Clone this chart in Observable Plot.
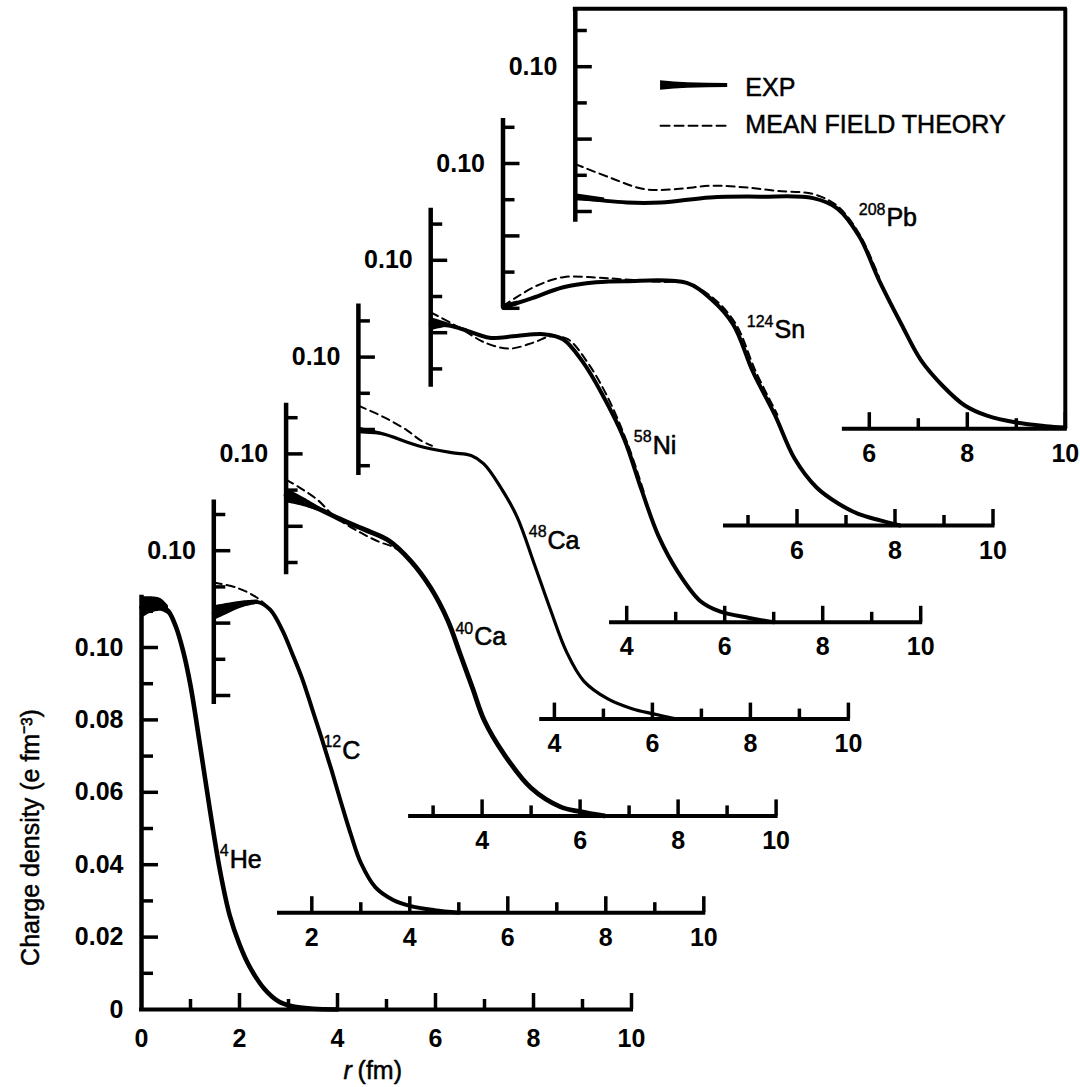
<!DOCTYPE html>
<html><head><meta charset="utf-8">
<script src="https://cdn.jsdelivr.net/npm/d3@7"></script>
<script src="https://cdn.jsdelivr.net/npm/@observablehq/plot@0.6"></script>
<style>
html,body{margin:0;padding:0;background:#fff;}
#chart svg{display:block;background:#fff;}
</style>
</head><body><div id="chart"></div>
<script>
// ---------- nuclei ----------
const massNumbers = ["4", "12", "40", "48", "58", "124", "208"];
const elements = ["He", "C", "Ca", "Ca", "Ni", "Sn", "Pb"];

// ---------- EXP curves (r in fm, charge density in e fm^-3) ----------
const heR   = [0, 0.2, 0.4, 0.55, 0.7, 0.85, 1.0, 1.2, 1.4, 1.6, 1.8, 2.0, 2.2, 2.5, 2.8, 3.1, 3.5, 4.0];
const heExp = [0.1110, 0.1115, 0.1115, 0.1100, 0.1058, 0.0990, 0.0895, 0.0725, 0.0548, 0.0385, 0.0260, 0.0180, 0.0120, 0.0058, 0.0022, 0.0008, 0.0002, 0];
const cR    = [0, 0.3, 0.6, 0.9, 1.15, 1.4, 1.6, 1.8, 2.0, 2.2, 2.4, 2.6, 2.8, 3.0, 3.3, 3.65, 4.0, 4.5, 5.0];
const cExp  = [0.0827, 0.0840, 0.0852, 0.0858, 0.0837, 0.0780, 0.0716, 0.0648, 0.0566, 0.0482, 0.0395, 0.0303, 0.0215, 0.0138, 0.0070, 0.0036, 0.0019, 0.0007, 0];
const ca40R   = [0, 0.35, 0.7, 1.05, 1.6, 2.1, 2.55, 2.95, 3.3, 3.55, 3.8, 4.05, 4.45, 5.0, 5.6, 6.0, 6.5];
const ca40Exp = [0.0886, 0.0866, 0.0846, 0.0823, 0.0791, 0.0760, 0.0703, 0.0630, 0.0540, 0.0448, 0.0355, 0.0262, 0.0170, 0.0077, 0.0025, 0.0012, 0];
const ca48R   = [0, 0.5, 1.2, 1.9, 2.3, 2.56, 2.9, 3.24, 3.58, 3.92, 4.25, 4.6, 5.1, 5.6, 6.0, 6.5];
const ca48Exp = [0.0798, 0.0788, 0.0756, 0.0736, 0.0728, 0.0705, 0.0641, 0.0558, 0.0432, 0.0302, 0.0185, 0.0105, 0.0055, 0.0028, 0.0015, 0];
const niR   = [0, 0.4, 0.75, 1.2, 1.75, 2.3, 2.7, 3.1, 3.5, 3.95, 4.3, 4.65, 5.05, 5.5, 5.9, 6.5, 7.0];
const niExp = [0.0823, 0.0819, 0.0805, 0.0786, 0.0791, 0.0796, 0.0782, 0.0720, 0.0630, 0.0506, 0.0367, 0.0238, 0.0138, 0.0059, 0.0030, 0.0012, 0];
const snR   = [0, 0.55, 1.23, 1.9, 2.5, 3.75, 4.25, 4.7, 5.1, 5.55, 5.95, 6.4, 6.85, 7.25, 7.7, 8.1];
const snExp = [0.0602, 0.0626, 0.0658, 0.0672, 0.0675, 0.0670, 0.0625, 0.0555, 0.0425, 0.0305, 0.0185, 0.0105, 0.0060, 0.0032, 0.0014, 0];
const pbR   = [0, 1.05, 1.75, 2.75, 3.8, 4.85, 5.35, 5.8, 6.2, 6.65, 7.05, 7.5, 7.95, 8.4, 9.0, 9.6, 10];
const pbExp = [0.0639, 0.0625, 0.0625, 0.0639, 0.0641, 0.0637, 0.0608, 0.0530, 0.0410, 0.0290, 0.0190, 0.0118, 0.0064, 0.0036, 0.0017, 0.0007, 0.0003];

// ---------- EXP error bands near the centre ----------
const heBandR  = [0, 0.2, 0.4, 0.55];
const heBandLo = [0.1080, 0.1095, 0.1100, 0.1090];
const heBandHi = [0.1140, 0.1140, 0.1135, 0.1115];
const cBandR   = [0, 0.3, 0.6, 0.9];
const cBandLo  = [0.0807, 0.0826, 0.0843, 0.0852];
const cBandHi  = [0.0848, 0.0855, 0.0861, 0.0864];
const ca40BandR  = [0, 0.35, 0.7];
const ca40BandLo = [0.0865, 0.0855, 0.0840];
const ca40BandHi = [0.0906, 0.0880, 0.0852];
const ca48BandR  = [0, 0.5];
const ca48BandLo = [0.0788, 0.0784];
const ca48BandHi = [0.0807, 0.0792];
const niBandR  = [0, 0.4, 0.75];
const niBandLo = [0.0805, 0.0815, 0.0800];
const niBandHi = [0.0842, 0.0825, 0.0810];
const snBandR  = [0, 0.3];
const snBandLo = [0.0596, 0.0608];
const snBandHi = [0.0610, 0.0620];
const pbBandR  = [0, 0.6];
const pbBandLo = [0.0630, 0.0625];
const pbBandHi = [0.0649, 0.0637];

// ---------- mean field theory curves ----------
const cMftR    = [0, 0.46, 0.86, 1.15, 1.4];
const cMft     = [0.0912, 0.0898, 0.0872, 0.0837, 0.0780];
const ca40MftR = [0, 0.3, 0.65, 1.0, 1.5, 1.9, 2.2, 2.5, 2.8];
const ca40Mft  = [0.0929, 0.0905, 0.0872, 0.0826, 0.0784, 0.0757, 0.0742, 0.0712, 0.0660];
const ca48MftR = [0, 0.35, 0.65, 1.0, 1.27, 1.5];
const ca48Mft  = [0.0866, 0.0845, 0.0825, 0.0797, 0.0770, 0.0755];
const niMftR   = [0, 0.4, 0.75, 1.1, 1.6, 2.1, 2.45, 2.8, 3.2, 3.6, 4.0, 4.35];
const niMft    = [0.0856, 0.0828, 0.0800, 0.0773, 0.0756, 0.0773, 0.0790, 0.0782, 0.0718, 0.0625, 0.0500, 0.0360];
const snMftR   = [0, 0.28, 0.7, 1.23, 1.9, 2.45, 3.2, 3.75, 4.3, 4.75, 5.15, 5.6];
const snMft    = [0.0606, 0.0631, 0.0663, 0.0686, 0.0685, 0.0680, 0.0673, 0.0670, 0.0627, 0.0557, 0.0428, 0.0306];
const pbMftR   = [0, 0.7, 1.4, 2.07, 2.76, 3.43, 4.12, 4.86, 5.35, 5.8, 6.2];
const pbMft    = [0.0731, 0.0694, 0.0662, 0.0662, 0.0671, 0.0667, 0.0657, 0.0648, 0.0615, 0.0537, 0.0418];

// ---------- axes of each stacked panel ----------
const axisXStart = [0, 1.3, 2.5, 3.7, 3.65, 4.5, 5.45];
const axisYLo    = [0, 0.0575, 0.0666, 0.0673, 0.0649, 0.0600, 0.0570];
const axisYHi    = [0.1144, 0.1140, 0.1140, 0.1147, 0.1144, 0.1124, 0.1160];
const xTickValues = [1, 2, 3, 4, 5, 6, 7, 8, 9, 10];
const xTickLabels = ["0", "2", "4", "6", "8", "10"];
const yTickValues = [0.01, 0.02, 0.03, 0.04, 0.05, 0.06, 0.07, 0.08, 0.09, 0.10, 0.11];
const mainYTickLabels = ["0", "0.02", "0.04", "0.06", "0.08", "0.10"];
const subYTickLabel = "0.10";
const boxTop = 0.116;          // top of the 208Pb frame

// nucleus label anchors (in each panel's own r / density)
const labelR   = [1.80, 2.62, 3.84, 3.86, 4.53, 5.54, 6.35];
const labelRho = [0.0412, 0.0448, 0.0493, 0.0493, 0.0488, 0.0539, 0.0581];

const legendLabels = ["EXP", "MEAN FIELD THEORY"];

// ---------- geometry ----------
const W = 1080, H = 1087;
const ORIGIN_X = 141, ORIGIN_Y = 1009, PX_PER_FM = 49, PX_PER_UNIT = 3620;
const PXX = 1 / PX_PER_FM, PXY = 1 / PX_PER_UNIT;
const DX = 72.3 * PXX, DY = 96.8 * PXY;   // shift between stacked panels
const FONT = "Liberation Sans, Arial, Helvetica, sans-serif";
const CURVE = "catmull-rom";

const expR   = [heR, cR, ca40R, ca48R, niR, snR, pbR];
const expV   = [heExp, cExp, ca40Exp, ca48Exp, niExp, snExp, pbExp];
const bandR  = [heBandR, cBandR, ca40BandR, ca48BandR, niBandR, snBandR, pbBandR];
const bandLo = [heBandLo, cBandLo, ca40BandLo, ca48BandLo, niBandLo, snBandLo, pbBandLo];
const bandHi = [heBandHi, cBandHi, ca40BandHi, ca48BandHi, niBandHi, snBandHi, pbBandHi];
const mftR   = [[], cMftR, ca40MftR, ca48MftR, niMftR, snMftR, pbMftR];
const mftV   = [[], cMft, ca40Mft, ca48Mft, niMft, snMft, pbMft];
const lineWidths = [4.6, 4, 4.8, 3.2, 4, 4, 4];

const expRows = [], bandRows = [], mftRows = [];
const baseRows = [], yAxisRows = [], xTickRows = [], yTickRows = [], xLabRows = [], yLabRows = [], nucRows = [];
for (let k = 0; k < elements.length; k++) {
  const ox = k * DX, oy = k * DY;
  expR[k].forEach((r, i) => expRows.push({k, x: ox + r, y: oy + expV[k][i]}));
  bandR[k].forEach((r, i) => bandRows.push({k, x: ox + r, y1: oy + bandLo[k][i], y2: oy + bandHi[k][i]}));
  mftR[k].forEach((r, i) => mftRows.push({k, x: ox + r, y: oy + mftV[k][i]}));
  baseRows.push({y: oy, x1: ox + axisXStart[k] - (k === 0 ? 2 * PXX : 0), x2: ox + 10 + 2 * PXX});
  yAxisRows.push({x: ox, y1: oy + axisYLo[k] - (k === 0 ? 2 * PXY : 0), y2: oy + axisYHi[k]});
  xTickValues.filter(v => v > axisXStart[k]).forEach(v =>
    xTickRows.push({x: ox + v, y1: oy, y2: oy + (v % 2 === 0 ? 16 : 10) * PXY}));
  yTickValues.filter(v => v >= axisYLo[k] - 1e-9 && v <= axisYHi[k]).forEach(v =>
    yTickRows.push({y: oy + v, x1: ox, x2: ox + (Math.round(v * 100) % 2 === 0 ? 17 : 12) * PXX}));
  xTickLabels.map(Number).filter(v => v >= axisXStart[k]).forEach(v =>
    xLabRows.push({k, x: ox + v, y: oy, text: String(v)}));
  if (k === 0) mainYTickLabels.forEach(t => yLabRows.push({x: ox, y: oy + Number(t), text: t}));
  else yLabRows.push({x: ox, y: oy + Number(subYTickLabel), text: subYTickLabel});
  nucRows.push({x: ox + labelR[k], y: oy + labelRho[k], mass: massNumbers[k], el: elements[k]});
}
// 208Pb frame
const kPb = elements.length - 1, oxPb = kPb * DX, oyPb = kPb * DY;
const frameTop = [{y: oyPb + boxTop, x1: oxPb - 2 * PXX, x2: oxPb + 10 + 2 * PXX}];
const frameRight = [{x: oxPb + 10, y1: oyPb, y2: oyPb + boxTop}];

// legend (inside the 208Pb frame)
const legExp = [
  {x: oxPb + 1.74, y1: oyPb + 0.0948 - 0.00130, y2: oyPb + 0.0948 + 0.00130},
  {x: oxPb + 2.30, y1: oyPb + 0.0948 - 0.00075, y2: oyPb + 0.0948 + 0.00075},
  {x: oxPb + 3.11, y1: oyPb + 0.0948 - 0.00055, y2: oyPb + 0.0948 + 0.00055}
];
const legMft = [{x: oxPb + 1.74, y: oyPb + 0.0837}, {x: oxPb + 3.11, y: oyPb + 0.0837}];
const legText = [
  {x: oxPb + 3.47, y: oyPb + 0.0942, text: legendLabels[0]},
  {x: oxPb + 3.47, y: oyPb + 0.0840, text: legendLabels[1]}
];

const tickFont = {fontSize: 25, fontWeight: "bold", fill: "black", fontFamily: FONT};
const marks = [];
// axes
marks.push(Plot.ruleY(baseRows, {y: "y", x1: "x1", x2: "x2", stroke: "black", strokeWidth: 4}));
marks.push(Plot.ruleX(yAxisRows, {x: "x", y1: "y1", y2: "y2", stroke: "black", strokeWidth: 4.5}));
marks.push(Plot.ruleX(xTickRows, {x: "x", y1: "y1", y2: "y2", stroke: "black", strokeWidth: 3.5}));
marks.push(Plot.ruleY(yTickRows, {y: "y", x1: "x1", x2: "x2", stroke: "black", strokeWidth: 3.5}));
marks.push(Plot.ruleY(frameTop, {y: "y", x1: "x1", x2: "x2", stroke: "black", strokeWidth: 4}));
marks.push(Plot.ruleX(frameRight, {x: "x", y1: "y1", y2: "y2", stroke: "black", strokeWidth: 4}));
// tick labels
marks.push(Plot.text(xLabRows.filter(d => d.k === 0), {x: "x", y: "y", text: "text", dy: 29, ...tickFont}));
marks.push(Plot.text(xLabRows.filter(d => d.k > 0), {x: "x", y: "y", text: "text", dy: 25, ...tickFont}));
marks.push(Plot.text(yLabRows, {x: "x", y: "y", text: "text", textAnchor: "end", dx: -18, ...tickFont}));
// curves
marks.push(Plot.line(mftRows, {x: "x", y: "y", z: "k", stroke: "black", strokeWidth: 2, strokeDasharray: "8,5", curve: CURVE}));
marks.push(Plot.areaY(bandRows, {x: "x", y1: "y1", y2: "y2", z: "k", fill: "black", curve: CURVE}));
for (let k = 0; k < elements.length; k++) {
  marks.push(Plot.line(expRows.filter(d => d.k === k), {x: "x", y: "y", stroke: "black", strokeWidth: lineWidths[k], curve: CURVE, strokeLinejoin: "round"}));
}
// nucleus labels
marks.push(Plot.text(nucRows, {x: "x", y: "y", text: "el", textAnchor: "start", fontSize: 25, fill: "black", fontFamily: FONT, stroke: "black", strokeWidth: 0.6}));
marks.push(Plot.text(nucRows, {x: "x", y: "y", text: "mass", textAnchor: "end", dx: -1, dy: -9, fontSize: 16, fill: "black", fontFamily: FONT, stroke: "black", strokeWidth: 0.4}));
// legend
marks.push(Plot.areaY(legExp, {x: "x", y1: "y1", y2: "y2", fill: "black", curve: "monotone-x"}));
marks.push(Plot.line(legMft, {x: "x", y: "y", stroke: "black", strokeWidth: 2, strokeDasharray: "9,5"}));
marks.push(Plot.text(legText, {x: "x", y: "y", text: "text", textAnchor: "start", fontSize: 25, fill: "black", fontFamily: FONT, stroke: "black", strokeWidth: 0.5}));
// axis titles
marks.push(Plot.text([{x: -2.265, y: 0.0475}], {x: "x", y: "y", text: () => "Charge density (e fm\u207B\u00B3)", rotate: -90, fontSize: 25, fill: "black", fontFamily: FONT, stroke: "black", strokeWidth: 0.5}));
marks.push(Plot.text([{x: 4.29, y: -0.0171}], {x: "x", y: "y", text: () => "r", textAnchor: "end", fontStyle: "italic", fontSize: 25, fill: "black", fontFamily: FONT, stroke: "black", strokeWidth: 0.5}));
marks.push(Plot.text([{x: 4.41, y: -0.0171}], {x: "x", y: "y", text: () => "(fm)", textAnchor: "start", fontSize: 25, fill: "black", fontFamily: FONT, stroke: "black", strokeWidth: 0.5}));

const chart = Plot.plot({
  width: W, height: H,
  marginTop: 0, marginRight: 0, marginBottom: 0, marginLeft: 0,
  x: {domain: [-ORIGIN_X / PX_PER_FM, (W - ORIGIN_X) / PX_PER_FM], range: [0, W], axis: null},
  y: {domain: [(ORIGIN_Y - H) / PX_PER_UNIT, ORIGIN_Y / PX_PER_UNIT], range: [H, 0], axis: null},
  style: {background: "#fff", fontFamily: FONT, overflow: "visible"},
  marks
});
document.getElementById("chart").appendChild(chart);
</script></body></html>
